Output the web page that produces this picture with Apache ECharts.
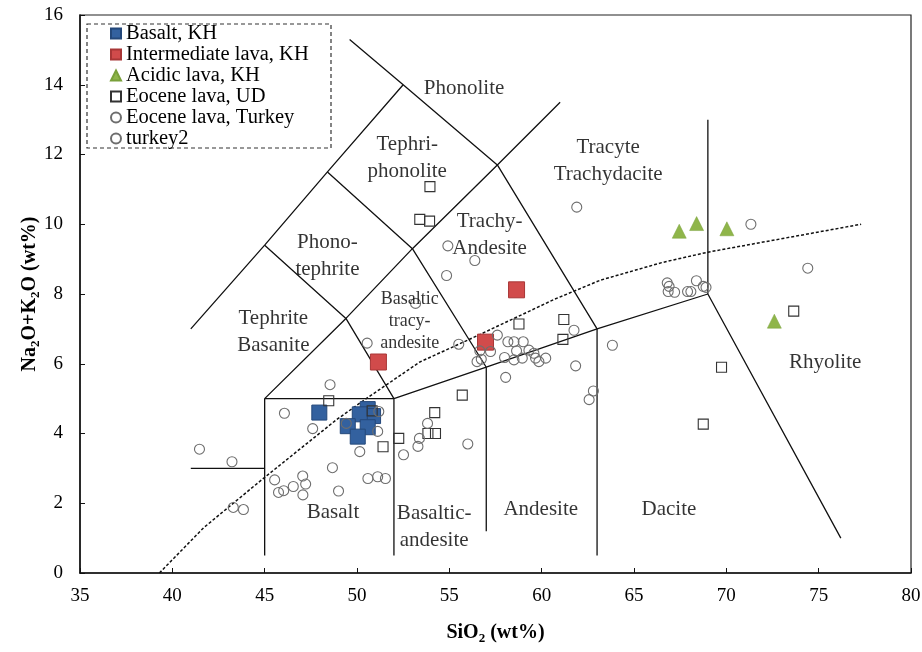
<!DOCTYPE html>
<html>
<head>
<meta charset="utf-8">
<script src="https://cdn.jsdelivr.net/npm/echarts@6/dist/echarts.min.js"></script>
<style>
html, body { margin: 0; padding: 0; background: #fff; }
#chart { width: 922px; height: 652px; }
</style>
</head>
<body>
<div id="chart"></div>
<script>
// SiO2 (wt%), Na2O+K2O (wt%)
const basaltKH = [[47.96, 4.6], [50.58, 4.7], [50.87, 4.5], [50.15, 4.55], [49.5, 4.21], [50.58, 4.18], [50.04, 3.91]]
const intermediateKH = [[51.16, 6.05], [56.96, 6.62], [58.64, 8.12]]
const acidicKH = [[67.45, 9.8], [68.39, 10.02], [70.03, 9.87], [72.6, 7.22]]
const eoceneUD = [
  [53.95, 11.08], [53.4, 10.14], [53.93, 10.09], [58.77, 7.14], [61.2, 7.27], [61.15, 6.7],
  [55.7, 5.1], [54.21, 4.6], [54.25, 4.0], [53.84, 4.0], [52.26, 3.86], [51.41, 3.62],
  [50.82, 4.65], [48.47, 4.94], [73.65, 7.51], [69.74, 5.9], [68.75, 4.27]
]
const eoceneTurkey = [
  [41.47, 3.55], [43.23, 3.19], [43.3, 1.88], [43.85, 1.82], [45.54, 2.67], [45.75, 2.31],
  [46.03, 2.36], [46.55, 2.48], [47.06, 2.78], [47.22, 2.55], [47.07, 2.24], [47.6, 4.14],
  [46.07, 4.58], [48.54, 5.4], [48.67, 3.02], [49.0, 2.35], [49.42, 4.29], [50.15, 3.48],
  [51.18, 4.63], [51.12, 4.06], [50.59, 2.71], [51.12, 2.76], [51.54, 2.71], [52.52, 3.39],
  [53.3, 3.63], [53.38, 3.86], [53.82, 4.29], [56.0, 3.7], [50.55, 6.59], [53.17, 7.73],
  [54.92, 9.38], [56.38, 8.96], [54.85, 8.53], [61.9, 10.49]
]
const turkey2 = [
  [55.51, 6.56], [56.65, 6.37], [56.73, 6.13], [57.23, 6.35], [57.6, 6.82], [58.17, 6.63],
  [58.5, 6.63], [59.0, 6.63], [57.99, 6.18], [58.64, 6.37], [58.5, 6.11], [58.95, 6.16],
  [59.31, 6.39], [59.58, 6.3], [59.67, 6.16], [59.85, 6.06], [60.22, 6.16], [61.75, 6.96],
  [61.84, 5.94], [58.05, 5.61], [62.8, 5.22], [62.57, 4.97], [63.83, 6.53], [56.5, 6.06],
  [66.8, 8.32], [66.85, 8.07], [67.2, 8.05], [66.9, 8.22], [67.9, 8.07], [68.08, 8.07],
  [68.38, 8.38], [68.75, 8.22], [68.9, 8.19], [71.33, 10.0], [74.41, 8.74]
]

// TAS field boundaries
const boundaries = [
  [[41, 3], [45, 3]],
  [[45, 0.5], [45, 5], [52, 5]],
  [[52, 0.5], [52, 5], [57, 5.9], [63, 7], [69, 8]],
  [[57, 1.2], [57, 5.9]],
  [[63, 0.5], [63, 7]],
  [[69, 13], [69, 8], [76.2, 1.0]],
  [[45, 5], [49.4, 7.3], [53, 9.3], [57.6, 11.7], [61, 13.5]],
  [[52, 5], [49.4, 7.3], [45, 9.4]],
  [[41, 7], [45, 9.4], [48.4, 11.5], [52.5, 14]],
  [[57, 5.9], [53, 9.3], [48.4, 11.5]],
  [[63, 7], [57.6, 11.7], [52.5, 14], [49.6, 15.3]]
]
// alkaline / subalkaline divide
const divide = [
  [39.3, 0], [41.7, 1.3], [44.9, 2.7], [46.9, 3.55], [48.9, 4.4], [50.5, 5.0], [53.4, 6.05],
  [56.5, 6.8], [60.7, 7.85], [63.2, 8.4], [66.5, 8.9], [69, 9.2], [77.3, 10]
]

const fieldNames = ['Phonolite', 'Tephri-\nphonolite', 'Tracyte\nTrachydacite', 'Phono-\ntephrite',
  'Trachy-\nAndesite', 'Tephrite\nBasanite', 'Basaltic\ntracy-\nandesite', 'Rhyolite', 'Basalt',
  'Basaltic-\nandesite', 'Andesite', 'Dacite']
const fieldPos = [[55.8, 13.9], [52.72, 11.9], [63.6, 11.8], [48.4, 9.1], [57.18, 9.69],
  [45.47, 6.9], [52.85, 7.23], [75.35, 6.05], [48.7, 1.73], [54.18, 1.32], [59.95, 1.81], [66.89, 1.81]]

const serif = "'Liberation Serif', 'Times New Roman', serif"
const chart = echarts.init(document.getElementById('chart'))

const lineSeries = boundaries.map(function (b) {
  return {
    type: 'line', data: b, symbol: 'none', silent: true, z: 1,
    lineStyle: { color: '#111', width: 1.3 }
  }
})
lineSeries.push({
  type: 'line', data: divide, symbol: 'none', silent: true, z: 1,
  lineStyle: { color: '#111', width: 1.5, type: [3, 2] }
})

chart.setOption({
  animation: false,
  backgroundColor: '#fff',
  grid: { left: 80, right: 11, top: 15, bottom: 79, show: true, borderColor: '#222', borderWidth: 1.2, outerBoundsMode: 'none' },
  legend: {
    orient: 'vertical', left: 105, top: 18, itemGap: 0,
    itemWidth: 10, itemHeight: 10,
    textStyle: { fontFamily: serif, fontSize: 20.5, lineHeight: 21, color: '#000' },
    data: ['Basalt, KH', 'Intermediate lava, KH', 'Acidic lava, KH', 'Eocene lava, UD', 'Eocene lava, Turkey', 'turkey2']
  },
  graphic: [{
    type: 'rect', shape: { x: 87, y: 24, width: 244, height: 124 },
    style: { fill: 'none', stroke: '#333', lineWidth: 1.2, lineDash: [4, 3] }
  }],
  xAxis: {
    type: 'value', min: 35, max: 80, interval: 5,
    name: '{a|SiO}{s|2}{a| (wt%)}', nameLocation: 'middle', nameGap: 48, nameMoveOverlap: false,
    nameTextStyle: {
      rich: {
        a: { fontFamily: serif, fontSize: 20, fontWeight: 'bold', color: '#000', lineHeight: 24 },
        s: { fontFamily: serif, fontSize: 13, fontWeight: 'bold', color: '#000', lineHeight: 14, verticalAlign: 'bottom' }
      }
    },
    axisLine: { lineStyle: { color: '#111', width: 1.5 } },
    axisTick: { inside: true, length: 5, lineStyle: { color: '#111' } },
    axisLabel: { fontFamily: serif, fontSize: 19, color: '#000', margin: 14 },
    splitLine: { show: false }
  },
  yAxis: {
    type: 'value', min: 0, max: 16, interval: 2,
    name: '{a|Na}{s|2}{a|O+K}{s|2}{a|O (wt%)}', nameLocation: 'middle', nameGap: 38, nameMoveOverlap: false,
    nameTextStyle: {
      rich: {
        a: { fontFamily: serif, fontSize: 20, fontWeight: 'bold', color: '#000', lineHeight: 24 },
        s: { fontFamily: serif, fontSize: 13, fontWeight: 'bold', color: '#000', lineHeight: 14, verticalAlign: 'bottom' }
      }
    },
    axisLine: { show: true, lineStyle: { color: '#111', width: 1.5 } },
    axisTick: { show: true, inside: true, length: 5, lineStyle: { color: '#111' } },
    axisLabel: { fontFamily: serif, fontSize: 19, color: '#000', margin: 17 },
    splitLine: { show: false }
  },
  series: lineSeries.concat([
    {
      name: 'Basalt, KH', type: 'scatter', data: basaltKH, symbol: 'rect', symbolSize: 15, z: 3,
      itemStyle: { color: '#33619f', borderColor: '#24487a', borderWidth: 1, opacity: 1 }
    },
    {
      name: 'Intermediate lava, KH', type: 'scatter', data: intermediateKH, symbol: 'rect', symbolSize: 16, z: 3,
      itemStyle: { color: '#d14b4b', borderColor: '#a83636', borderWidth: 1, opacity: 1 }
    },
    {
      name: 'Acidic lava, KH', type: 'scatter', data: acidicKH, symbol: 'triangle', symbolSize: 14, z: 3,
      itemStyle: { color: '#8fb54a', borderColor: '#79a03a', borderWidth: 0.5, opacity: 1 }
    },
    {
      name: 'Eocene lava, UD', type: 'scatter', data: eoceneUD, symbol: 'rect', symbolSize: 10, z: 4,
      itemStyle: { color: 'rgba(255,255,255,0)', borderColor: '#333', borderWidth: 1.1, opacity: 1 }
    },
    {
      name: 'Eocene lava, Turkey', type: 'scatter', data: eoceneTurkey, symbol: 'circle', symbolSize: 10, z: 4,
      itemStyle: { color: 'rgba(255,255,255,0)', borderColor: '#6e6e6e', borderWidth: 1.1, opacity: 1 }
    },
    {
      name: 'turkey2', type: 'scatter', data: turkey2, symbol: 'circle', symbolSize: 10, z: 4,
      itemStyle: { color: 'rgba(255,255,255,0)', borderColor: '#6e6e6e', borderWidth: 1.1, opacity: 1 }
    },
    {
      type: 'scatter', silent: true, symbolSize: 0, z: 5,
      data: fieldNames.map(function (n, i) {
        const small = n.indexOf('tracy-') >= 0
        return {
          name: n, value: fieldPos[i],
          label: { fontSize: small ? 18 : 21, lineHeight: small ? 22 : 27 }
        }
      }),
      label: {
        show: true, position: 'inside', formatter: '{b}', color: '#000',
        fontFamily: serif, fontSize: 21, lineHeight: 27, align: 'center', verticalAlign: 'middle'
      }
    }
  ])
})
</script>
</body>
</html>
